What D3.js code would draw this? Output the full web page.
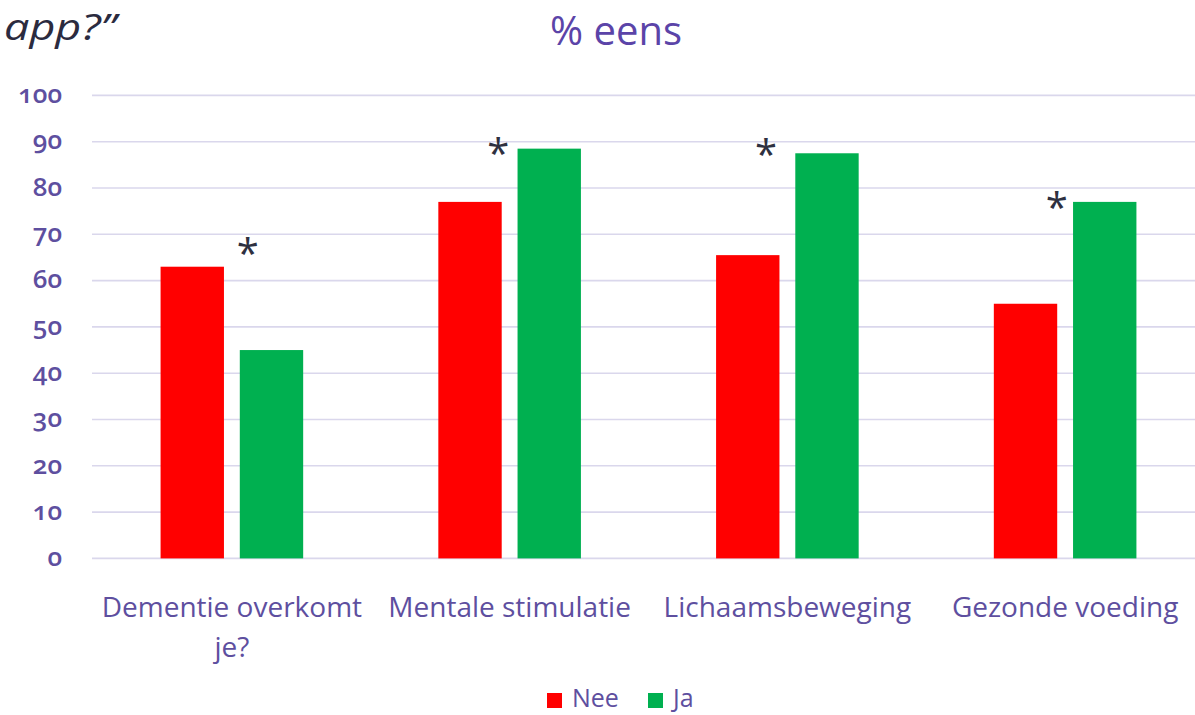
<!DOCTYPE html>
<html>
<head>
<meta charset="utf-8">
<script src="https://cdn.jsdelivr.net/npm/d3@7"></script>
<style>
  html, body { margin: 0; padding: 0; background: #ffffff; }
  svg { display: block; }
  text { font-family: "Open Sans", sans-serif; }
</style>
</head>
<body>
<svg id="chart" width="1195" height="715"></svg>
<script>
// ---- data ----
const categories = [["Dementie overkomt", "je?"], ["Mentale stimulatie"], ["Lichaamsbeweging"], ["Gezonde voeding"]];
const categoryKeys = ["Dementie overkomt je?", "Mentale stimulatie", "Lichaamsbeweging", "Gezonde voeding"];
const seriesNames = ["Nee", "Ja"];
const neeValues = [63, 77, 65.5, 55];
const jaValues = [45, 88.5, 87.5, 77];
const seriesColors = ["#ff0000", "#00b050"];
const yTicks = [0, 10, 20, 30, 40, 50, 60, 70, 80, 90, 100];
// significance markers: category, horizontal position within step (fraction), height (value units)
const starCats = ["Dementie overkomt je?", "Mentale stimulatie", "Lichaamsbeweging", "Gezonde voeding"];
const starPos = [0.557, 0.459, 0.423, 0.470];
const starValues = [68, 89.7, 89.5, 78];
const titleText = "% eens";
const cornerText = "app?\u201D";

// ---- layout ----
const svg = d3.select("#chart");
const purple = "#5e4f9f";

const x0 = d3.scaleBand().domain(categoryKeys).range([93, 1204])
  .paddingInner(0.4866).paddingOuter(0.2433);
const x1 = d3.scaleBand().domain(seriesNames).range([0, x0.bandwidth()]).paddingInner(0.2).paddingOuter(0);
const y = d3.scaleLinear().domain([0, 100]).range([558.4, 95.4]);
const color = d3.scaleOrdinal().domain(seriesNames).range(seriesColors);

// corner text (cropped slide title)
svg.append("text").attr("x", 4).attr("y", 40)
  .attr("font-size", 37).attr("font-style", "italic").attr("fill", "#2b2b3f")
  .attr("textLength", 112).attr("lengthAdjust", "spacingAndGlyphs")
  .text(cornerText);

// chart title
svg.append("text").attr("x", 616).attr("y", 45).attr("text-anchor", "middle")
  .attr("font-size", 40).attr("fill", "#5b44a8").text(titleText);

// gridlines
svg.append("g").selectAll("line").data(yTicks).join("line")
  .attr("x1", 92).attr("x2", 1195)
  .attr("y1", d => y(d)).attr("y2", d => y(d))
  .attr("stroke", "#dad7ec").attr("stroke-width", 1.6);

// y axis labels via d3 axis
const yAxis = d3.axisLeft(y).tickValues(yTicks).tickSize(0).tickPadding(0).tickFormat(d3.format("d"));
const gy = svg.append("g").attr("transform", "translate(62,0)").call(yAxis);
gy.select(".domain").remove();
gy.selectAll("text")
  .attr("font-family", "'Open Sans', sans-serif")
  .attr("font-size", 26).attr("font-weight", 600).attr("fill", purple)
  .style("font-variant-numeric", "oldstyle-nums")
  .attr("dy", "0.28em");

// bars
const rows = categoryKeys.map((c, i) => ({ cat: c, vals: [
  { s: "Nee", v: neeValues[i] }, { s: "Ja", v: jaValues[i] } ] }));
const groups = svg.append("g").selectAll("g").data(rows).join("g")
  .attr("transform", d => `translate(${x0(d.cat)},0)`);
groups.selectAll("rect").data(d => d.vals).join("rect")
  .attr("x", d => x1(d.s)).attr("width", x1.bandwidth())
  .attr("y", d => y(d.v)).attr("height", d => y(0) - y(d.v))
  .attr("fill", d => color(d.s));

// significance asterisks
svg.append("g").selectAll("text").data(starCats).join("text")
  .attr("x", (d, i) => x0(d) - (x0.step() - x0.bandwidth()) / 2 + x0.step() * starPos[i])
  .attr("y", (d, i) => y(starValues[i]))
  .attr("dy", "0.62em")
  .attr("text-anchor", "middle")
  .attr("font-family", "'DejaVu Sans', sans-serif")
  .attr("font-size", 40).attr("fill", "#2e3040")
  .text("*");

// category labels
const labels = svg.append("g").selectAll("text").data(categories).join("text")
  .attr("text-anchor", "middle")
  .attr("font-size", 28).attr("fill", purple)
  .attr("transform", (d, i) => `translate(${x0(categoryKeys[i]) + x0.bandwidth() / 2},617)`);
labels.selectAll("tspan").data(d => d).join("tspan")
  .attr("x", 0).attr("dy", (d, j) => j === 0 ? 0 : 40).text(d => d);

// legend
const legend = svg.append("g").selectAll("g").data(seriesNames).join("g")
  .attr("transform", (d, i) => `translate(${i === 0 ? 547 : 648},693)`);
legend.append("rect").attr("width", 15).attr("height", 15).attr("fill", d => color(d));
legend.append("text").attr("x", 25).attr("y", 14)
  .attr("font-size", 25).attr("fill", purple).text(d => d);
</script>
</body>
</html>
